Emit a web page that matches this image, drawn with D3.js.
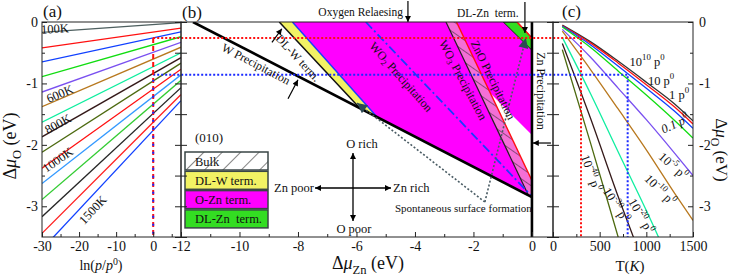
<!DOCTYPE html>
<html>
<head>
<meta charset="utf-8">
<script src="https://cdn.jsdelivr.net/npm/d3@7"></script>
<style>
  body { margin: 0; background: #fff; }
  svg { font-family: "Liberation Serif", "Times New Roman", serif; }
  text { font-family: "Liberation Serif", "Times New Roman", serif; fill: #111; }
</style>
</head>
<body>
<div id="chart"></div>
<script>
// ---------- data ----------

// (a) one straight line per temperature, Δμ_O at the left (-30) and right (7.5) plot edges
const aTemps = [100, 200, 300, 400, 500, 600, 700, 800, 900, 1000, 1100, 1200, 1300, 1400, 1500];
const aLnEnds = [-30, 7.5];
const aMuAtLeft  = [-0.17, -0.42, -0.65, -0.89, -1.14, -1.38, -1.63, -1.87, -2.12, -2.38, -2.63, -2.89, -3.17, -3.44, -3.70];
const aMuAtRight = [-0.01, -0.10, -0.16, -0.24, -0.33, -0.41, -0.50, -0.58, -0.67, -0.77, -0.86, -0.95, -1.07, -1.18, -1.28];
const aColors = ["#4f6060", "#ff1010", "#1040ff", "#10dd10", "#7a50f0", "#b8781e", "#10eea0", "#351a1a",
                 "#4d6a10", "#ff1010", "#3399ff", "#33cc33", "#262626", "#ff2020", "#1040ff"];
const aLabelled = [100, 600, 800, 1000, 1500];

// (c) Δμ_O vs T at fixed O2 pressure
const cTemps = [100, 400, 700, 1000, 1300, 1500];
const muP1e10  = [-0.05, -0.32, -0.64, -0.98, -1.33, -1.61];
const muP10    = [-0.06, -0.34, -0.67, -1.02, -1.38, -1.66];
const muP1     = [-0.07, -0.37, -0.72, -1.08, -1.45, -1.73];
const muP01    = [-0.08, -0.41, -0.80, -1.19, -1.60, -1.89];
const muP1em5  = [-0.12, -0.57, -1.08, -1.59, -2.13, -2.50];
const muP1em10 = [-0.15, -0.77, -1.42, -2.08, -2.78, -3.23];
const muP1em20 = [-0.25, -1.16, -2.12, -3.07, -4.07, -4.73];
const muP1em30 = [-0.35, -1.56, -2.85, -4.06, -5.36, -6.22];
const muP1em40 = [-0.45, -1.96, -3.51, -5.06, -6.65, -7.71];
const cSeries = [muP1e10, muP10, muP1, muP01, muP1em5, muP1em10, muP1em20, muP1em30, muP1em40];
const cExponents = ["10", "", "", "", "-5", "-10", "-20", "-30", "-40"];
const cMantissa  = ["10", "10", "1", "0.1", "10", "10", "10", "10", "10"];
const cColors = ["#333333", "#ff1010", "#1040ff", "#10dd10", "#7a50f0", "#b8781e", "#10eea0", "#351a1a", "#4d6a10"];

// (b) (010) surface phase diagram, points are [Δμ_Zn, Δμ_O]
const wPrecip   = [[-11.59, 0], [0, -2.85]];
const wo2Precip = [[-5.68, 0], [0, -2.84]];
const wo3Edge   = [[-2.94, 0], [-0.12, -2.82]];
const znoPrecip = [[-2.58, 0], [0, -2.58]];
const dlwRegion  = [[-8.64, 0], [-8.19, 0], [-5.29, -1.55], [-5.89, -1.40]];
const ozRegion   = [[-8.19, 0], [-0.98, 0], [0, -0.46], [0, -1.84], [-1.42, -1.16], [0, -2.58], [0, -2.85], [-5.29, -1.55]];
const dlznRegion = [[-0.98, 0], [-0.51, 0], [0, -0.26], [0, -0.46]];
const bulkRegion = [[-2.94, 0], [-2.58, 0], [0, -2.58], [0, -2.85], [-0.12, -2.82]];
const spontFrom = [-1.61, -2.93];
const spontTips = [[-5.98, -1.32], [-0.21, -0.26]];

// reference conditions at p0: T and Δμ_O
const refTemps = [300, 800];
const refMu = [-0.26, -0.86];

const legendNames = ["Bulk", "DL-W term.", "O-Zn term.", "DL-Zn  term."];

// ---------- layout ----------
const width = 734, height = 278;
const plotTop = 22, plotBottom = 237;
const y  = d3.scaleLinear().domain([-3.5, 0]).range([plotBottom, plotTop]);
const xA = d3.scaleLinear().domain([-30, 7.5]).range([42, 181]);
const xB = d3.scaleLinear().domain([-12, 0.72]).range([181, 553]);
const xC = d3.scaleLinear().domain([0, 1500]).range([553, 693]);

const svg = d3.select("#chart").append("svg")
  .attr("width", width)
  .attr("height", height);
const defs = svg.append("defs");

function arrowMarker(id, color, w, h) {
  defs.append("marker").attr("id", id)
    .attr("viewBox", "0 0 10 10").attr("refX", 10).attr("refY", 5)
    .attr("markerUnits", "userSpaceOnUse")
    .attr("markerWidth", w).attr("markerHeight", h)
    .attr("orient", "auto-start-reverse")
    .append("path").attr("d", "M0,0L10,5L0,10z").attr("fill", color);
}
arrowMarker("arr", "#000", 9, 6);
arrowMarker("arrS", "#2d4a55", 13, 10);

function clip(id, x0, x1) {
  defs.append("clipPath").attr("id", id).append("rect")
    .attr("x", x0).attr("y", plotTop).attr("width", x1 - x0).attr("height", plotBottom - plotTop);
}
clip("clipA", 42, 181);
clip("clipB", 181, 553);
clip("clipC", 553, 693);

// hatch for the bulk stability region and the legend
const pLeg = defs.append("pattern").attr("id", "hatchLeg")
  .attr("patternUnits", "userSpaceOnUse").attr("width", 13).attr("height", 13)
  .attr("patternTransform", "rotate(45)");
pLeg.append("rect").attr("width", 13).attr("height", 13).attr("fill", "#fff");
pLeg.append("line").attr("x1", 0).attr("y1", 0).attr("x2", 0).attr("y2", 13).attr("stroke", "#333").attr("stroke-width", 1.2);

const pBand = defs.append("pattern").attr("id", "hatchBand")
  .attr("patternUnits", "userSpaceOnUse").attr("width", 9).attr("height", 9)
  .attr("patternTransform", "rotate(35)");
pBand.append("rect").attr("width", 9).attr("height", 9).attr("fill", "#f46fd6");
pBand.append("line").attr("x1", 0).attr("y1", 0).attr("x2", 9).attr("y2", 0).attr("stroke", "#222").attr("stroke-width", 1);

// rich text helper: parts with sup/sub/italic
function rich(sel, parts, fs) {
  let shift = 0;
  parts.forEach(p => {
    const want = p.sup ? -fs * 0.38 : (p.sub ? fs * 0.28 : 0);
    const ts = sel.append("tspan").text(p.t).attr("dy", want - shift);
    if (p.sup || p.sub) ts.attr("font-size", fs * 0.7);
    if (p.it) ts.attr("font-style", "italic");
    shift = want;
  });
  return sel;
}
function label(x, yy, rot, fs, parts, opts = {}) {
  const t = svg.append("text")
    .attr("transform", `translate(${x},${yy}) rotate(${rot})`)
    .attr("font-size", fs)
    .attr("text-anchor", opts.anchor || "middle")
    .attr("fill", opts.color || "#111")
    .style("white-space", "pre");
  if (opts.italic) t.attr("font-style", "italic");
  return rich(t, parts, fs);
}

const ptLine = d3.line().x(d => d[0]).y(d => d[1]);
const bLine = d3.line().x(d => xB(d[0])).y(d => y(d[1]));

// ---------- panel (a) ----------
const gA = svg.append("g").attr("clip-path", "url(#clipA)");
const aLine = d3.line().x(d => xA(d[0])).y(d => y(d[1]));
gA.selectAll("path")
  .data(aTemps)
  .join("path")
    .attr("d", (t, i) => aLine([[aLnEnds[0], aMuAtLeft[i]], [aLnEnds[1], aMuAtRight[i]]]))
    .attr("fill", "none")
    .attr("stroke", (t, i) => aColors[i])
    .attr("stroke-width", 1.3);

const aLabelPos = { 100: [55, 29, -3], 600: [60, 94, -23], 800: [58, 124, -29], 1000: [58, 160, -35], 1500: [93, 210, -47] };
aLabelled.forEach(t => {
  const p = aLabelPos[t];
  label(p[0], p[1], p[2], 12.5, [{ t: t + "K" }], { color: aColors[aTemps.indexOf(t)] })
    .attr("dominant-baseline", "central");
});

// ---------- panel (c) ----------
const gC = svg.append("g").attr("clip-path", "url(#clipC)");
const cLine = d3.line().x(d => xC(d[0])).y(d => y(d[1])).curve(d3.curveMonotoneX);
gC.selectAll("path")
  .data(cSeries)
  .join("path")
    .attr("d", s => cLine(cTemps.map((t, i) => [t, s[i]])))
    .attr("fill", "none")
    .attr("stroke", (s, i) => cColors[i])
    .attr("stroke-width", 1.3);

const cLabelPos = [[647, 62, 0], [661, 81, 0], [679, 95, 0], [675, 124, -25], [673, 166, 42],
                   [660, 190, 45], [641, 216, 60], [616, 205, 58], [591, 173, 70]];
cSeries.forEach((s, i) => {
  const p = cLabelPos[i];
  const parts = [{ t: cMantissa[i] }];
  if (cExponents[i]) parts.push({ t: cExponents[i], sup: true });
  parts.push({ t: " p" }, { t: "0", sup: true });
  label(p[0], p[1], p[2], 12.5, parts, { color: cColors[i], italic: i === 3 })
    .attr("dominant-baseline", "central");
});

// ---------- panel (b) ----------
const gB = svg.append("g").attr("clip-path", "url(#clipB)");
gB.append("path").attr("d", bLine(ozRegion) + "Z").attr("fill", "#ff00ff");
gB.append("path").attr("d", bLine(dlwRegion) + "Z").attr("fill", "#f2f264");
gB.append("path").attr("d", bLine(dlznRegion) + "Z").attr("fill", "#33dd22")
  .attr("stroke", "#111").attr("stroke-width", 1);
gB.append("path").attr("d", bLine([dlznRegion[1], dlznRegion[2]])).attr("stroke", "#ff1010").attr("stroke-width", 1.6);
gB.append("path").attr("d", bLine(bulkRegion) + "Z").attr("fill", "url(#hatchBand)");

gB.append("path").attr("d", bLine([dlwRegion[0], dlwRegion[3]])).attr("stroke", "#111").attr("stroke-width", 1.5);
gB.append("path").attr("d", bLine([dlwRegion[1], dlwRegion[2]])).attr("stroke", "#1a3cff").attr("stroke-width", 1.5);
gB.append("path").attr("d", bLine(wo3Edge)).attr("stroke", "#222").attr("stroke-width", 1.2);
gB.append("path").attr("d", bLine(znoPrecip)).attr("stroke", "#ff1010").attr("stroke-width", 1.4);
gB.append("path").attr("d", bLine(wo2Precip)).attr("stroke", "#1a3cff").attr("stroke-width", 1.8)
  .attr("stroke-dasharray", "9,3,2,3");
gB.append("path").attr("d", bLine(wPrecip)).attr("stroke", "#000").attr("stroke-width", 2.6);
gB.append("path").attr("d", bLine([[0, 0], [0, -3.5]])).attr("stroke", "#000").attr("stroke-width", 2.6);

// spontaneous-formation pointers
spontTips.forEach(tip => {
  svg.append("path").attr("d", bLine([spontFrom, tip]))
    .attr("fill", "none").attr("stroke", "#4a5c64").attr("stroke-width", 1.6)
    .attr("stroke-dasharray", "2,2").attr("marker-end", "url(#arrS)");
});

// reference dotted lines (300 K red, 800 K blue) across all panels
const refColors = ["#ff1010", "#1a2aff"];
refTemps.forEach((t, i) => {
  svg.append("path")
    .attr("d", ptLine([[xA(0), y(refMu[i])], [xC(t), y(refMu[i])], [xC(t), plotBottom]]))
    .attr("fill", "none").attr("stroke", refColors[i]).attr("stroke-width", 2)
    .attr("stroke-dasharray", "2,2");
});
svg.append("path").attr("d", ptLine([[xA(0), y(refMu[0])], [xA(0), plotBottom]]))
  .attr("stroke", refColors[0]).attr("stroke-width", 2).attr("stroke-dasharray", "5,3");
svg.append("path").attr("d", ptLine([[xA(0), y(refMu[1])], [xA(0), plotBottom]]))
  .attr("stroke", refColors[1]).attr("stroke-width", 2).attr("stroke-dasharray", "2,6").attr("stroke-dashoffset", -5);

// annotations in (b)
function arrow(p0, p1) {
  svg.append("path").attr("d", ptLine([p0, p1])).attr("stroke", "#000").attr("stroke-width", 1.2)
    .attr("marker-end", "url(#arr)");
}
arrow([xB(-8.34), y(-1.25)], [xB(-8.0), y(-0.94)]);
arrow([xB(-8.89), y(-0.33)], [xB(-8.55), y(-0.11)]);
arrow([xB(-4.24), 1], [xB(-4.24), plotTop]);
arrow([xB(-0.24), 2], [xB(-0.24), y(-0.18)]);
arrow([xB(0.65), y(-1.97)], [xB(0.03), y(-1.97)]);

label(403, 16, 0, 11.5, [{ t: "Oxygen Relaesing" }], { anchor: "end" });
label(457, 17, 0, 11.5, [{ t: "DL-Zn  term." }], { anchor: "start" });
label(256, 64, 27.5, 12, [{ t: "W Precipitation" }]).attr("dominant-baseline", "central");
label(298, 58, 47, 12, [{ t: "DL-W term." }]).attr("dominant-baseline", "central");
label(401, 77, 48.5, 12, [{ t: "WO" }, { t: "2", sub: true }, { t: " Precipitation" }]).attr("dominant-baseline", "central");
label(463, 80, 62, 12, [{ t: "WO" }, { t: "3", sub: true }, { t: " Precipitation" }]).attr("dominant-baseline", "central");
label(493, 80, 64, 12, [{ t: "ZnO Precipitation" }]).attr("dominant-baseline", "central");
label(541, 91, 90, 12, [{ t: "Zn Precipitation" }]).attr("dominant-baseline", "central");
label(395, 212, 0, 11, [{ t: "Spontaneous surface formation" }], { anchor: "start" });
label(195, 142, 0, 13, [{ t: "(010)" }], { anchor: "start" });

// compass
const cc = [353, 188];
[[353, 153], [353, 221], [315, 188], [391, 188]].forEach(p => {
  svg.append("path").attr("d", ptLine([cc, p])).attr("stroke", "#000").attr("stroke-width", 1.3)
    .attr("marker-end", "url(#arr)");
});
label(362, 148, 0, 12.5, [{ t: "O rich" }]);
label(354, 233, 0, 12.5, [{ t: "O poor" }]);
label(314, 192, 0, 12.5, [{ t: "Zn poor" }], { anchor: "end" });
label(393, 192, 0, 12.5, [{ t: "Zn rich" }], { anchor: "start" });

// legend
const legFills = ["url(#hatchLeg)", "#f2f264", "#ff00ff", "#33dd22"];
const leg = svg.append("g").attr("transform", "translate(185,152)");
legendNames.forEach((name, i) => {
  leg.append("rect").attr("x", 0).attr("y", i * 19.3).attr("width", 83).attr("height", 18)
    .attr("fill", legFills[i]).attr("stroke", "#3a4646").attr("stroke-width", 1.5);
  leg.append("text").attr("x", 10).attr("y", i * 19.3 + 9.5).attr("font-size", 12.5)
    .attr("dominant-baseline", "central").style("white-space", "pre").text(name);
});

// ---------- axes and frames ----------
const fmt = d => String(d);
function axis(gen, tx, ty) {
  const g = svg.append("g").attr("transform", `translate(${tx},${ty})`).call(gen);
  g.attr("font-family", null);
  g.select(".domain").remove();
  g.selectAll("line").attr("stroke", "#222");
  g.selectAll("text").attr("font-size", 14).attr("fill", "#111");
  return g;
}
const halves = [0, -0.5, -1, -1.5, -2, -2.5, -3, -3.5];
// (a)
axis(d3.axisBottom(xA).tickValues([-30, -20, -10, 0]).tickSize(-5).tickPadding(4).tickFormat(fmt), 0, plotBottom);
axis(d3.axisBottom(xA).tickValues([-25, -15, -5, 5]).tickSize(-3).tickFormat(""), 0, plotBottom);
axis(d3.axisLeft(y).tickValues([0, -1, -2, -3]).tickSize(-5).tickPadding(4).tickFormat(fmt), 42, 0);
axis(d3.axisLeft(y).tickValues([-0.5, -1.5, -2.5]).tickSize(-3).tickFormat(""), 42, 0);
// shared edges a|b and b|c
[181, 553].forEach(x => {
  axis(d3.axisLeft(y).tickValues(halves).tickSize(6).tickFormat(""), x, 0);
  axis(d3.axisRight(y).tickValues(halves).tickSize(6).tickFormat(""), x, 0);
});
// (b)
axis(d3.axisBottom(xB).tickValues([-12, -10, -8, -6, -4, -2, 0]).tickSize(-5).tickPadding(4).tickFormat(fmt), 0, plotBottom);
axis(d3.axisBottom(xB).tickValues([-11, -9, -7, -5, -3, -1]).tickSize(-3).tickFormat(""), 0, plotBottom);
// (c)
axis(d3.axisBottom(xC).tickValues([0, 500, 1000, 1500]).tickSize(-5).tickPadding(4).tickFormat(fmt), 0, plotBottom);
axis(d3.axisBottom(xC).tickValues([250, 750, 1250]).tickSize(-3).tickFormat(""), 0, plotBottom);
axis(d3.axisRight(y).tickValues([0, -1, -2, -3]).tickSize(-5).tickPadding(6).tickFormat(fmt), 693, 0);
axis(d3.axisRight(y).tickValues([-0.5, -1.5, -2.5]).tickSize(-3).tickFormat(""), 693, 0);

[[42, 181], [181, 553], [553, 693]].forEach(r => {
  svg.append("rect").attr("x", r[0]).attr("y", plotTop).attr("width", r[1] - r[0])
    .attr("height", plotBottom - plotTop).attr("fill", "none").attr("stroke", "#222").attr("stroke-width", 1);
});

// titles
label(43, 17, 0, 17, [{ t: "(a)" }], { anchor: "start" });
label(182, 18, 0, 17, [{ t: "(b)" }], { anchor: "start" });
label(562, 17, 0, 17, [{ t: "(c)" }], { anchor: "start" });
label(101, 270, 0, 14, [{ t: "ln(" }, { t: "p", it: true }, { t: "/" }, { t: "p", it: true }, { t: "0", sup: true }, { t: ")" }]);
label(368, 269, 0, 18, [{ t: "Δ" }, { t: "μ", it: true }, { t: "Zn", sub: true }, { t: " (eV)" }]);
label(630, 271, 0, 15, [{ t: "T(" }, { t: "K", it: true }, { t: ")" }]);
label(16, 146, -90, 18, [{ t: "Δ" }, { t: "μ", it: true }, { t: "O", sub: true }, { t: " (eV)" }]);
label(716, 150, 90, 17, [{ t: "Δ" }, { t: "μ", it: true }, { t: "O", sub: true }, { t: " (eV)" }]);
</script>
</body>
</html>
